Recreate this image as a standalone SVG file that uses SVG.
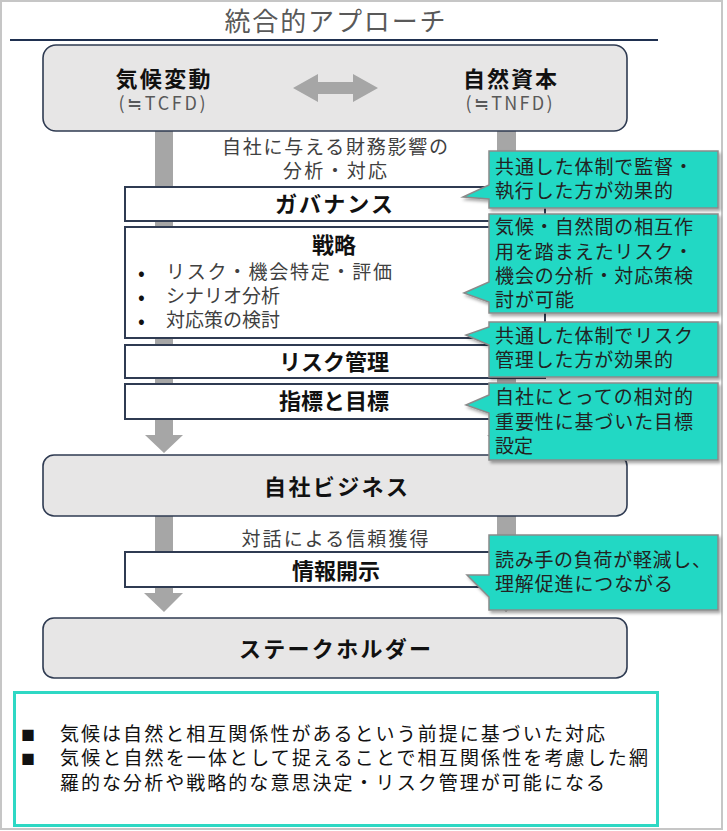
<svg xmlns="http://www.w3.org/2000/svg" width="727" height="831" viewBox="0 0 727 831">
<style>
text{font-family:"Noto Sans CJK JP","Noto Sans",sans-serif;}
.h{font-size:22px;font-weight:700;fill:#111;text-anchor:middle;}
.sub{font-size:18px;fill:#595959;text-anchor:middle;}
.lbl{font-size:19px;fill:#404040;text-anchor:middle;}
.body{font-size:19px;fill:#404040;}
.dot{font-size:20px;fill:#111;}
.co{font-size:19px;fill:#222;}
.bt{font-size:19px;fill:#111;}
.gbox{fill:#e7e6e6;stroke:#2f3b52;stroke-width:1.6;}
.wbox{fill:#fff;stroke:#2f3b52;stroke-width:2;}
.call{fill:#22d8c4;stroke:#8a8a8a;stroke-width:1.5;filter:url(#sh);}
.arr{fill:#a6a6a6;}
</style>
<defs>
<filter id="sh" x="-10%" y="-10%" width="125%" height="130%">
<feDropShadow dx="2" dy="2.5" stdDeviation="1.5" flood-color="#000" flood-opacity="0.35"/>
</filter>
</defs>
<rect x="1" y="1" width="721" height="828" fill="#fff" stroke="#c6c6c6" stroke-width="2"/>
<g id="title">
<text x="335" y="31" font-size="26" fill="#595959" text-anchor="middle" textLength="221" lengthAdjust="spacing">統合的アプローチ</text>
<line x1="10" y1="40" x2="658" y2="40" stroke="#1f3050" stroke-width="2"/>
</g>
<g id="connectors">
<polygon class="arr" points="155,131 173,131 173,435 183,435 164,453 145,435 155,435"/>
<polygon class="arr" points="497,131 516,131 516,435 526,435 506,453 487,435 497,435"/>
<polygon class="arr" points="155,516 173,516 173,593 183,593 164,612 144,593 155,593"/>
<polygon class="arr" points="497,516 516,516 516,593 526,593 506,612 487,593 497,593"/>
</g>
<g id="top">
<rect class="gbox" x="43" y="45" width="584" height="86" rx="13"/>
<text class="h" x="163" y="87" font-size="23" textLength="95" lengthAdjust="spacing">気候変動</text>
<text class="sub" x="162" y="110" textLength="87" lengthAdjust="spacing">(≒TCFD)</text>
<text class="h" x="510" y="87" font-size="23" textLength="94" lengthAdjust="spacing">自然資本</text>
<text class="sub" x="509" y="110" textLength="87" lengthAdjust="spacing">(≒TNFD)</text>
<polygon class="arr" points="293,88 318,74 318,82 353,82 353,74 378,88 353,102 353,94 318,94 318,102"/>
</g>
<g id="label1">
<text class="lbl" x="335" y="154" textLength="226" lengthAdjust="spacing">自社に与える財務影響の</text>
<text class="lbl" x="335" y="178" textLength="104" lengthAdjust="spacing">分析・対応</text>
</g>
<g id="governance">
<rect class="wbox" x="125" y="187" width="420" height="34"/>
<text class="h" x="334" y="212" textLength="118" lengthAdjust="spacing">ガバナンス</text>
</g>
<g id="strategy">
<rect class="wbox" x="125" y="227" width="420" height="111"/>
<text class="h" x="334" y="253">戦略</text>
<text class="dot" x="138" y="280">•</text>
<text class="body" x="166" y="279" textLength="226" lengthAdjust="spacing">リスク・機会特定・評価</text>
<text class="dot" x="138" y="304">•</text>
<text class="body" x="166" y="303">シナリオ分析</text>
<text class="dot" x="138" y="328">•</text>
<text class="body" x="166" y="327">対応策の検討</text>
</g>
<g id="risk">
<rect class="wbox" x="125" y="345" width="420" height="33"/>
<text class="h" x="334" y="370">リスク管理</text>
</g>
<g id="metrics">
<rect class="wbox" x="125" y="384" width="420" height="35"/>
<text class="h" x="334" y="409">指標と目標</text>
</g>
<g id="business">
<rect class="gbox" x="43" y="455" width="584" height="61" rx="11"/>
<text class="h" x="336" y="495" font-size="23" textLength="144" lengthAdjust="spacing">自社ビジネス</text>
</g>
<g id="label2">
<text class="lbl" x="335" y="546" textLength="187" lengthAdjust="spacing">対話による信頼獲得</text>
</g>
<g id="disclosure">
<rect class="wbox" x="125" y="552" width="420" height="35"/>
<text class="h" x="336" y="579">情報開示</text>
</g>
<g id="stakeholder">
<rect class="gbox" x="43" y="618" width="584" height="60" rx="11"/>
<text class="h" x="335" y="657" font-size="23" textLength="192" lengthAdjust="spacing">ステークホルダー</text>
</g>
<g id="callout1">
<path class="call" d="M489,151 H718 V208 H489 V199 L463,197 L489,185 Z"/>
<text class="co" x="495" y="174" textLength="198" lengthAdjust="spacing">共通した体制で監督・</text>
<text class="co" x="495" y="198" textLength="178" lengthAdjust="spacing">執行した方が効果的</text>
</g>
<g id="callout2">
<path class="call" d="M489,214 H718 V313 H489 V302 L464,293 L489,282 Z"/>
<text class="co" x="495" y="234" textLength="198" lengthAdjust="spacing">気候・自然間の相互作</text>
<text class="co" x="495" y="259" textLength="198" lengthAdjust="spacing">用を踏まえたリスク・</text>
<text class="co" x="495" y="283" textLength="198" lengthAdjust="spacing">機会の分析・対応策検</text>
<text class="co" x="495" y="307" textLength="79" lengthAdjust="spacing">討が可能</text>
</g>
<g id="callout3">
<path class="call" d="M489,322 H718 V377 H489 V345 L466,335 L489,327 Z"/>
<text class="co" x="495" y="343" textLength="198" lengthAdjust="spacing">共通した体制でリスク</text>
<text class="co" x="495" y="367" textLength="178" lengthAdjust="spacing">管理した方が効果的</text>
</g>
<g id="callout4">
<path class="call" d="M489,383 H718 V460 H489 V413 L466,405 L489,395 Z"/>
<text class="co" x="495" y="404" textLength="198" lengthAdjust="spacing">自社にとっての相対的</text>
<text class="co" x="495" y="429" textLength="198" lengthAdjust="spacing">重要性に基づいた目標</text>
<text class="co" x="495" y="453">設定</text>
</g>
<g id="callout5">
<path class="call" d="M489,535 H718 V610 H489 V597 L467,575 L489,575 Z"/>
<text class="co" x="495" y="567" textLength="216" lengthAdjust="spacing">読み手の負荷が軽減し、</text>
<text class="co" x="495" y="591" textLength="178" lengthAdjust="spacing">理解促進につながる</text>
</g>
<g id="summary">
<rect x="14.5" y="692.5" width="643" height="133" fill="#fff" stroke="#2ed8c4" stroke-width="3"/>
<text x="21" y="740" font-size="14" fill="#111">■</text>
<text class="bt" x="60" y="741" textLength="545" lengthAdjust="spacing">気候は自然と相互関係性があるという前提に基づいた対応</text>
<text x="21" y="764" font-size="14" fill="#111">■</text>
<text class="bt" x="60" y="765" textLength="588" lengthAdjust="spacing">気候と自然を一体として捉えることで相互関係性を考慮した網</text>
<text class="bt" x="60" y="790" textLength="545" lengthAdjust="spacing">羅的な分析や戦略的な意思決定・リスク管理が可能になる</text>
</g>
</svg>
